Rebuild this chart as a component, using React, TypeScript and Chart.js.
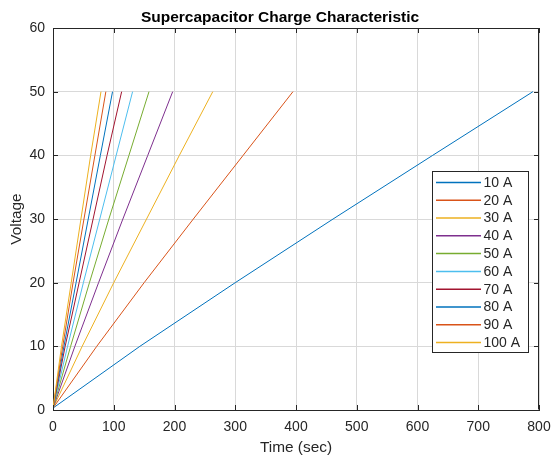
import React, { useEffect, useRef } from "react";
import { Chart, registerables } from "chart.js";

Chart.register(...registerables);

const titleText = "Supercapacitor Charge Characteristic";
const xLabel = "Time (sec)";
const yLabel = "Voltage";

const seriesLabels = ["10 A", "20 A", "30 A", "40 A", "50 A", "60 A", "70 A", "80 A", "90 A", "100 A"];
const voltageLevels = [0.3, 10, 20, 30, 40, 50];

const t10A = [0, 143, 300, 461, 625, 790];
const t20A = [0, 72, 150, 231, 313, 395];
const t30A = [0, 48, 100, 154, 208, 263];
const t40A = [0, 36, 75, 115, 156, 197];
const t50A = [0, 29, 60, 92, 125, 158];
const t60A = [0, 24, 50, 77, 104, 131];
const t70A = [0, 20, 43, 66, 89, 113];
const t80A = [0, 18, 38, 58, 78, 98];
const t90A = [0, 16, 33, 51, 69, 87];
const t100A = [0, 14, 30, 46, 62, 79];

const seriesTimes = [t10A, t20A, t30A, t40A, t50A, t60A, t70A, t80A, t90A, t100A];

const palette = ["#0072BD", "#D95319", "#EDB120", "#7E2F8E", "#77AC30", "#4DBEEE", "#A2142F"];

const xTicks = [0, 100, 200, 300, 400, 500, 600, 700, 800];
const yTicks = [0, 10, 20, 30, 40, 50, 60];

const FONT = '"Liberation Sans", Arial, Helvetica, sans-serif';
const AXIS = "#262626";
const GRID = "#d9d9d9";

export default function App() {
  const ref = useRef<HTMLCanvasElement | null>(null);

  useEffect(() => {
    if (!ref.current) return;

    const datasets = seriesTimes.map((times, i) => ({
      label: seriesLabels[i],
      data: times.map((t, k) => ({ x: t, y: voltageLevels[k] })),
      borderColor: palette[i % palette.length],
      backgroundColor: palette[i % palette.length],
      borderWidth: 1,
      pointRadius: 0,
      tension: 0,
      fill: false,
      order: seriesTimes.length - i,
    }));

    const decor = {
      id: "matlabDecor",
      afterDraw(chart: any) {
        const { ctx, chartArea } = chart;
        const { left, right, top, bottom } = chartArea;
        const xs = chart.scales.x;
        const ys = chart.scales.y;
        ctx.save();
        ctx.strokeStyle = AXIS;
        ctx.lineWidth = 1;
        ctx.beginPath();
        ctx.moveTo(left + 0.5, top + 0.5);
        ctx.lineTo(right - 0.5, top + 0.5);
        ctx.lineTo(right - 0.5, bottom - 0.5);
        ctx.stroke();
        ctx.beginPath();
        xTicks.forEach((v) => {
          const px = Math.round(xs.getPixelForValue(v)) + 0.5;
          ctx.moveTo(px, bottom);
          ctx.lineTo(px, bottom - 5);
          ctx.moveTo(px, top);
          ctx.lineTo(px, top + 5);
        });
        yTicks.forEach((v) => {
          const py = Math.round(ys.getPixelForValue(v)) + 0.5;
          ctx.moveTo(left, py);
          ctx.lineTo(left + 5, py);
          ctx.moveTo(right, py);
          ctx.lineTo(right - 5, py);
        });
        ctx.stroke();

        ctx.fillStyle = "#000000";
        ctx.font = `bold 15.5px ${FONT}`;
        ctx.textAlign = "center";
        ctx.textBaseline = "alphabetic";
        ctx.fillText(titleText, 280, 22);

        const bx = 432.5, by = 171.5, bw = 96, bh = 181;
        ctx.fillStyle = "#ffffff";
        ctx.fillRect(bx, by, bw, bh);
        ctx.strokeStyle = AXIS;
        ctx.lineWidth = 1;
        ctx.strokeRect(bx, by, bw, bh);
        ctx.font = `14px ${FONT}`;
        ctx.textAlign = "left";
        ctx.textBaseline = "middle";
        chart.data.datasets.forEach((ds: any, i: number) => {
          const yy = 182.5 + i * 17.78;
          ctx.strokeStyle = ds.borderColor;
          ctx.lineWidth = 1.5;
          ctx.beginPath();
          ctx.moveTo(436, yy);
          ctx.lineTo(481, yy);
          ctx.stroke();
          ctx.fillStyle = AXIS;
          ctx.fillText(ds.label, 483.5, yy + 0.5);
        });
        ctx.restore();
      },
    };

    const chart = new Chart(ref.current, {
      type: "line",
      data: { datasets },
      options: {
        responsive: false,
        animation: false,
        devicePixelRatio: 1,
        layout: { padding: { top: 28, right: 13, left: 0, bottom: 0 } },
        plugins: {
          legend: { display: false },
          tooltip: { enabled: false },
          title: { display: false },
        },
        scales: {
          x: {
            type: "linear",
            min: 0,
            max: 800,
            afterFit: (s: any) => {
              s.height = 48;
              s.paddingLeft = 0;
              s.paddingRight = 0;
            },
            afterBuildTicks: (s: any) => {
              s.ticks = xTicks.map((v) => ({ value: v }));
            },
            ticks: {
              color: AXIS,
              font: { size: 14, family: FONT },
              padding: 9,
              maxRotation: 0,
            },
            grid: { color: GRID, drawTicks: false, lineWidth: 1 },
            border: { display: true, color: AXIS, width: 1 },
            title: {
              display: true,
              text: xLabel,
              color: AXIS,
              font: { size: 15.4, family: FONT },
              padding: { top: 0, bottom: 1 },
            },
          },
          y: {
            type: "linear",
            min: 0,
            max: 60,
            afterFit: (s: any) => {
              s.width = 53;
              s.paddingTop = 0;
              s.paddingBottom = 0;
            },
            afterBuildTicks: (s: any) => {
              s.ticks = yTicks.map((v) => ({ value: v }));
            },
            ticks: {
              color: AXIS,
              font: { size: 14, family: FONT },
              padding: 8,
            },
            grid: { color: GRID, drawTicks: false, lineWidth: 1 },
            border: { display: true, color: AXIS, width: 1 },
            title: {
              display: true,
              text: yLabel,
              color: AXIS,
              font: { size: 15.4, family: FONT },
              padding: { top: 8, bottom: 0 },
            },
          },
        },
      },
      plugins: [decor],
    });

    return () => chart.destroy();
  }, []);

  return (
    <div style={{ position: "absolute", left: 0, top: 0, width: 552, height: 458, background: "#ffffff" }}>
      <canvas ref={ref} width={552} height={458} style={{ display: "block" }} />
    </div>
  );
}
